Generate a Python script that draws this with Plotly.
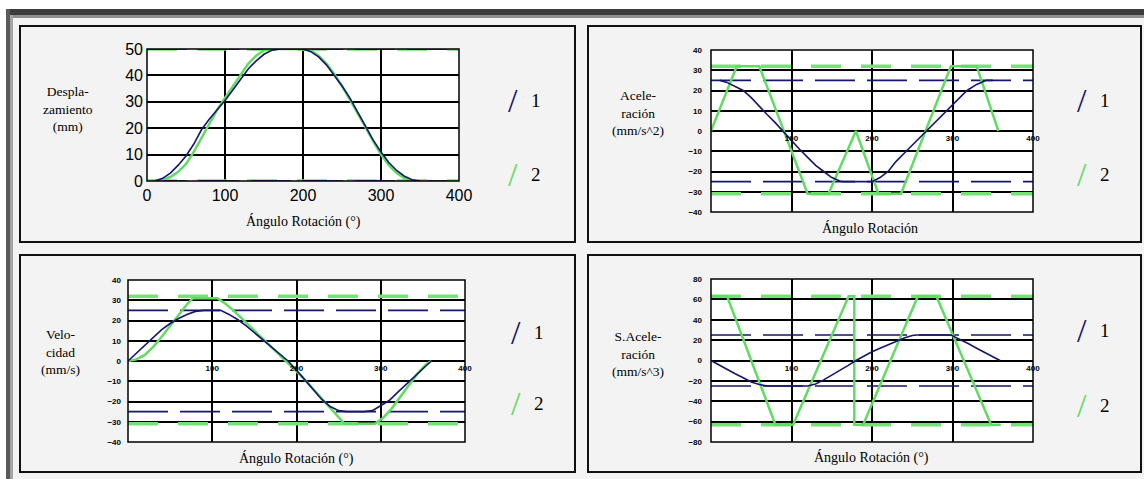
import plotly.graph_objects as go

W, H = 1144, 479
def fx(p): return p / W
def fy(p): return 1 - p / H

# ---------------- data ----------------
X_TICKS_1 = [0, 100, 200, 300, 400]
Y_TICKS_1 = [0, 10, 20, 30, 40, 50]
X_TICKS_S = [100, 200, 300, 400]
Y_TICKS_AV = [-40, -30, -20, -10, 0, 10, 20, 30, 40]
Y_TICKS_J = [-80, -60, -40, -20, 0, 20, 40, 60, 80]

disp_navy_x = [10, 20, 30, 40, 50, 60, 70, 80, 90, 100, 110, 120, 130, 140, 150, 160, 170,
               180, 190,
               200, 210, 220, 230, 240, 250, 260, 270, 280, 290, 300, 310, 320, 330, 340, 350]
disp_navy_y = [0, 1, 3, 6, 9.5, 14, 19.5, 23.5, 27, 30.5, 34.5, 38.5, 42.5, 45.5, 48, 49.5, 50,
               50, 50,
               50, 49, 47, 44, 40, 36, 31.5, 26, 20.5, 15.5, 11, 7, 4, 1.8, 0.5, 0]
disp_green_x = [0, 10, 20, 30, 40, 50, 60, 70, 80, 90, 100, 110, 120, 130, 140, 150, 160,
                170, 180, 190, 200,
                210, 220, 230, 240, 250, 260, 270, 280, 290, 300, 310, 320, 330, 340, 350, 360]
disp_green_y = [0, 0, 0.5, 1.5, 3.5, 6.5, 11, 16.5, 22, 27, 31.5, 36, 40.5, 44.5, 47.5, 49.5, 50,
                50, 50, 50, 50,
                49.5, 47.5, 44.5, 40.5, 36, 31, 26, 20.5, 15, 10, 6, 3, 1, 0.2, 0, 0]
disp_green_lv = [50, 0]
disp_navy_lv = [50, 0]

acc_navy_x = [11, 20, 30, 40, 50, 60, 70, 80, 89, 100, 110, 120, 130, 140, 150, 160, 164,
              200, 210, 220, 230, 240, 250, 260, 268, 280, 293, 305, 318, 330, 342, 350]
acc_navy_y = [25, 24, 22, 20, 16.5, 12, 8, 4, 0, -5, -9, -13, -17, -20, -23, -24.7, -25,
              -25, -23, -20, -15, -11, -7, -3.5, 0, 5, 10, 14.5, 20, 23, 25, 25]
acc_green_x = [0, 32, 60, 120, 146, 180, 208, 236, 298, 330, 357]
acc_green_y = [0, 32, 32, -31, -31, 0, -31, -31, 32, 32, 0]
acc_green_lv = [32, -31]
acc_navy_lv = [25, -25]

vel_navy_x = [0, 10, 20, 30, 40, 50, 60, 70, 80, 90, 100, 110, 120, 130, 140, 150, 160, 170, 180,
              190, 200, 210, 220, 230, 240, 250, 260, 270, 280, 290, 300, 310, 320, 330, 340, 350, 360]
vel_navy_y = [0, 4, 8, 12, 15.5, 18.5, 21, 23, 24.5, 25, 25, 25, 23, 20.5, 17.5, 14, 10.5, 7, 3.5,
              0, -4.5, -9.5, -14.5, -19, -22.5, -24.5, -25, -25, -25, -24.5, -22, -19.5, -15.5, -11.5,
              -7.5, -3.5, 0]
vel_green_x = [0, 10, 20, 30, 40, 50, 60, 70, 77, 106, 115, 125, 135, 145, 155, 165, 175, 187,
               197, 207, 217, 227, 237, 247, 257, 293, 303, 313, 323, 333, 343, 353, 360]
vel_green_y = [0, 0.8, 3, 7, 12, 17.5, 23, 28, 31, 31, 28.5, 25, 21, 17, 13, 9, 5, 0,
               -4, -8, -12.5, -17, -21.5, -26.5, -31, -31, -28, -23.5, -18, -12, -6.5, -2, 0]
vel_green_lv = [32, -31]
vel_navy_lv = [25, -25]

jerk_navy_x = [0, 10, 20, 30, 40, 50, 60, 70, 120, 130, 140, 150, 160, 170, 180, 190, 200, 210,
               220, 230, 240, 250, 255, 298, 310, 320, 330, 340, 350, 359]
jerk_navy_y = [0, -4.5, -9, -13, -17, -21, -23.5, -25, -25, -23, -19, -14.5, -10, -5, 0, 4.5, 8.5,
               12, 15.5, 19, 22, 24.5, 25, 25, 20.5, 16.5, 12, 8, 4, 0]
jerk_green_x = [0, 20, 80, 102, 171, 178, 178, 189, 257, 280, 348, 360]
jerk_green_y = [63, 63, -63, -63, 63, 63, -63, -63, 63, 63, -63, -63]
jerk_green_lv = [63, -63]
jerk_navy_lv = [25, -25]

# ---------------- style ----------------
NAVY = '#16166a'
GREEN = '#62db62'
GREEN_D = '#74e274'
SERIF = 'Liberation Serif'

fig = go.Figure()

panels = [
    ('x', 'y', disp_navy_x, disp_navy_y, disp_green_x, disp_green_y, disp_navy_lv, disp_green_lv),
    ('x2', 'y2', acc_navy_x, acc_navy_y, acc_green_x, acc_green_y, acc_navy_lv, acc_green_lv),
    ('x3', 'y3', vel_navy_x, vel_navy_y, vel_green_x, vel_green_y, vel_navy_lv, vel_green_lv),
    ('x4', 'y4', jerk_navy_x, jerk_navy_y, jerk_green_x, jerk_green_y, jerk_navy_lv, jerk_green_lv),
]

for xa, ya, nx, ny, gx, gy, nlv, glv in panels:
    for lv in glv:
        fig.add_trace(go.Scatter(x=[0, 400], y=[lv, lv], xaxis=xa, yaxis=ya, mode='lines',
                                 line=dict(color=GREEN_D, width=3.5, dash='30px,20px'),
                                 showlegend=False, hoverinfo='skip'))
    for lv in nlv:
        fig.add_trace(go.Scatter(x=[0, 400], y=[lv, lv], xaxis=xa, yaxis=ya, mode='lines',
                                 line=dict(color=NAVY, width=1.6, dash='40px,12px'),
                                 showlegend=False, hoverinfo='skip'))
    fig.add_trace(go.Scatter(x=gx, y=gy, xaxis=xa, yaxis=ya, mode='lines',
                             line=dict(color=GREEN, width=2.5), name='2', showlegend=False))
    fig.add_trace(go.Scatter(x=nx, y=ny, xaxis=xa, yaxis=ya, mode='lines',
                             line=dict(color=NAVY, width=1.6), name='1', showlegend=False))

grid = dict(showgrid=True, gridcolor='black', gridwidth=1.5, zeroline=False,
            showline=False, ticks='', fixedrange=True, automargin=False)
small_font = dict(family='Liberation Sans', size=8, color='black', weight='bold')
big_font = dict(family='Liberation Sans', size=16, color='black')

fig.update_layout(
    width=W, height=H, autosize=False,
    margin=dict(l=0, r=0, t=0, b=0, pad=0, autoexpand=False),
    paper_bgcolor='#f3f3f3', plot_bgcolor='white',
    showlegend=False,
    xaxis=dict(domain=[fx(147), fx(459)], range=[0, 400], tickvals=X_TICKS_1, anchor='y',
               tickfont=big_font, ticklabelstandoff=3, **grid),
    yaxis=dict(domain=[fy(181), fy(49)], range=[0, 50], tickvals=Y_TICKS_1, anchor='x',
               tickfont=big_font, ticklabelstandoff=3, **grid),
    xaxis2=dict(domain=[fx(711), fx(1033)], range=[0, 400], tickvals=X_TICKS_S, anchor='free',
                position=fy(131), tickfont=small_font, ticklabelstandoff=1, **grid),
    yaxis2=dict(domain=[fy(212), fy(50)], range=[-40, 40], tickvals=Y_TICKS_AV, anchor='x2',
                tickfont=small_font, ticklabelstandoff=8, **grid),
    xaxis3=dict(domain=[fx(128), fx(465)], range=[0, 400], tickvals=X_TICKS_S, anchor='free',
                position=fy(361), tickfont=small_font, ticklabelstandoff=1, **grid),
    yaxis3=dict(domain=[fy(442), fy(280)], range=[-40, 40], tickvals=Y_TICKS_AV, anchor='x3',
                tickfont=small_font, ticklabelstandoff=6, **grid),
    xaxis4=dict(domain=[fx(711), fx(1033)], range=[0, 400], tickvals=X_TICKS_S, anchor='free',
                position=fy(360.5), tickfont=small_font, ticklabelstandoff=1, **grid),
    yaxis4=dict(domain=[fy(442), fy(279)], range=[-80, 80], tickvals=Y_TICKS_J, anchor='x4',
                tickfont=small_font, ticklabelstandoff=8, **grid),
)

shapes = []
def band(x0, y0, x1, y1, color):
    shapes.append(dict(type='rect', xref='paper', yref='paper', x0=fx(x0), x1=fx(x1),
                       y0=fy(y1), y1=fy(y0), fillcolor=color, line=dict(width=0), layer='above'))
# outer window frame
band(0, 0, W, 9, 'white')
band(0, 0, 6, H, 'white')
band(6, 9, W, 15, '#3c3c3c')
band(6, 9, 10, H, '#5a5a5a')
band(10, 15, W, 18, '#8e8e8e')
band(10, 15, 13, H, '#a4a4a4')
# panel frames
for (l, t, r, b) in [(20, 26, 575, 242), (588, 26, 1141, 242), (20, 255, 575, 472), (588, 255, 1141, 472)]:
    shapes.append(dict(type='rect', xref='paper', yref='paper', x0=fx(l), x1=fx(r), y0=fy(b), y1=fy(t),
                       line=dict(color='#111111', width=2)))
# plot borders
for xa, ya in [('x', 'y'), ('x2', 'y2'), ('x3', 'y3'), ('x4', 'y4')]:
    shapes.append(dict(type='rect', xref=xa + ' domain', yref=ya + ' domain', x0=0, x1=1, y0=0, y1=1,
                       line=dict(color='black', width=1.5)))
fig.update_layout(shapes=shapes)

ann = []
def txt(x, y, s, size=14, color='black', family=SERIF, xanchor='center'):
    ann.append(dict(x=fx(x), y=fy(y), xref='paper', yref='paper', text=s, showarrow=False,
                    font=dict(family=family, size=size, color=color), xanchor=xanchor, yanchor='middle',
                    align='center'))

# y titles
txt(68, 109, 'Despla-<br>zamiento<br>(mm)', size=13.5)
txt(638, 113, 'Acele-<br>ración<br>(mm/s^2)', size=13.5)
txt(60, 352, 'Velo-<br>cidad<br>(mm/s)', size=13.5)
txt(638, 354, 'S.Acele-<br>ración<br>(mm/s^3)', size=13.5)
# x titles
txt(303, 221, 'Ángulo Rotación (°)', size=14)
txt(870, 228, 'Ángulo Rotación', size=14)
txt(296, 458, 'Ángulo Rotación (°)', size=14)
txt(872, 457, 'Ángulo Rotación (°)', size=14)
# legends
for lx, y1, y2 in [(513, 100, 175), (1082, 100, 175), (516, 332, 403), (1082, 330, 405)]:
    txt(lx, y1, '/', size=34, color=NAVY, family=SERIF)
    txt(lx + 23, y1, '1', size=19)
    txt(lx, y2, '/', size=34, color=GREEN, family=SERIF)
    txt(lx + 23, y2, '2', size=19)
fig.update_layout(annotations=ann)

fig.write_html('out.html', config={'displayModeBar': False},
               post_script="document.body.style.margin='0';document.body.style.overflow='hidden';")
